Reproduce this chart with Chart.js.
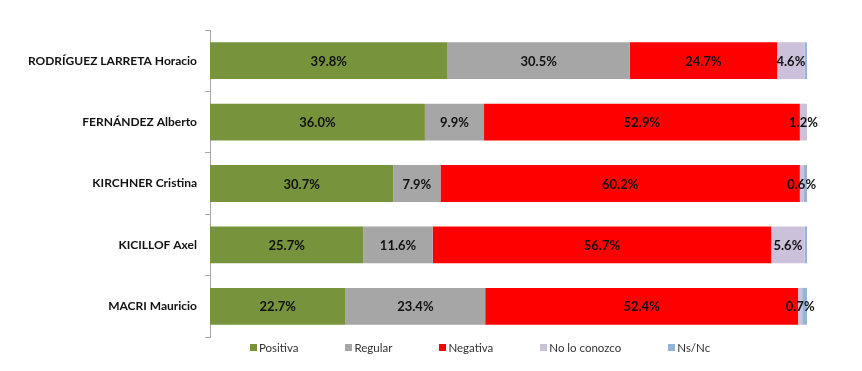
<!DOCTYPE html>
<html>
<head>
<meta charset="utf-8">
<script src="https://cdn.jsdelivr.net/npm/chart.js@4.4.1/dist/chart.umd.min.js"></script>
<style>
  body { margin: 0; background: #fff; }
  #wrap { position: relative; width: 862px; height: 371px; }
  #chart { position: absolute; left: 0; top: 0; }
  #legend {
    position: absolute; left: 250px; top: 341px;
    display: flex; gap: 47px;
    font-family: Lato, "Liberation Sans", sans-serif; font-size: 11.5px; color: #333;
  }
  #legend .item { display: flex; align-items: center; white-space: nowrap; }
  #legend .box { width: 7px; height: 7px; margin-right: 2px; }
</style>
</head>
<body>
<div id="wrap">
  <canvas id="chart" width="862" height="371"></canvas>
  <div id="legend"></div>
</div>
<script>
const candidates = ['RODRÍGUEZ LARRETA Horacio', 'FERNÁNDEZ Alberto', 'KIRCHNER Cristina', 'KICILLOF Axel', 'MACRI Mauricio'];
const seriesNames = ['Positiva', 'Regular', 'Negativa', 'No lo conozco', 'Ns/Nc'];
const positiva = [39.8, 36.0, 30.7, 25.7, 22.7];
const regular = [30.5, 9.9, 7.9, 11.6, 23.4];
const negativa = [24.7, 52.9, 60.2, 56.7, 52.4];
const noLoConozco = [4.6, 1.2, 0.6, 5.6, 0.7];
const nsNc = [0.4, 0.0, 0.6, 0.4, 0.8];
const colors = ['#77933C', '#A6A6A6', '#FF0000', '#CCC1DA', '#95B3D7'];
const labelledSeries = 4; // Ns/Nc has no value labels

const allValues = [positiva, regular, negativa, noLoConozco, nsNc];

const valueLabels = {
  id: 'valueLabels',
  afterDatasetsDraw(chart) {
    const ctx = chart.ctx;
    ctx.save();
    ctx.font = 'bold 13px Lato, "Liberation Sans", sans-serif';
    ctx.fillStyle = '#111';
    ctx.textAlign = 'center';
    ctx.textBaseline = 'middle';
    chart.data.datasets.forEach((ds, i) => {
      if (i >= labelledSeries) return;
      chart.getDatasetMeta(i).data.forEach((bar, j) => {
        const p = bar.getCenterPoint();
        ctx.fillText(ds.data[j].toFixed(1) + '%', p.x, p.y + 1);
      });
    });
    ctx.restore();
  }
};

const chart = new Chart(document.getElementById('chart'), {
  type: 'bar',
  data: {
    labels: candidates,
    datasets: seriesNames.map((name, i) => ({
      label: name,
      data: allValues[i],
      backgroundColor: colors[i],
      borderWidth: 0,
      categoryPercentage: 1,
      barPercentage: 0.6
    }))
  },
  options: {
    indexAxis: 'y',
    responsive: false,
    animation: false,
    layout: { padding: { left: 0, right: 55, top: 30, bottom: 34 } },
    plugins: {
      legend: { display: false },
      tooltip: { enabled: false }
    },
    scales: {
      x: { stacked: true, min: 0, max: 100, display: false },
      y: {
        stacked: true,
        afterFit(scale) { scale.width = 210; },
        border: { display: true, color: '#a6a6a6', width: 1 },
        grid: { display: true, drawOnChartArea: false, drawTicks: true, tickLength: 5, color: '#a6a6a6', offset: true },
        ticks: {
          padding: 8,
          color: '#111',
          font: { family: 'Lato, "Liberation Sans", sans-serif', size: 12, weight: 'bold' }
        }
      }
    }
  },
  plugins: [valueLabels]
});

// legend built from the datasets
const legend = document.getElementById('legend');
chart.data.datasets.forEach(ds => {
  const item = document.createElement('div');
  item.className = 'item';
  item.innerHTML = '<span class="box" style="background:' + ds.backgroundColor + '"></span>' + ds.label;
  legend.appendChild(item);
});
</script>
</body>
</html>
